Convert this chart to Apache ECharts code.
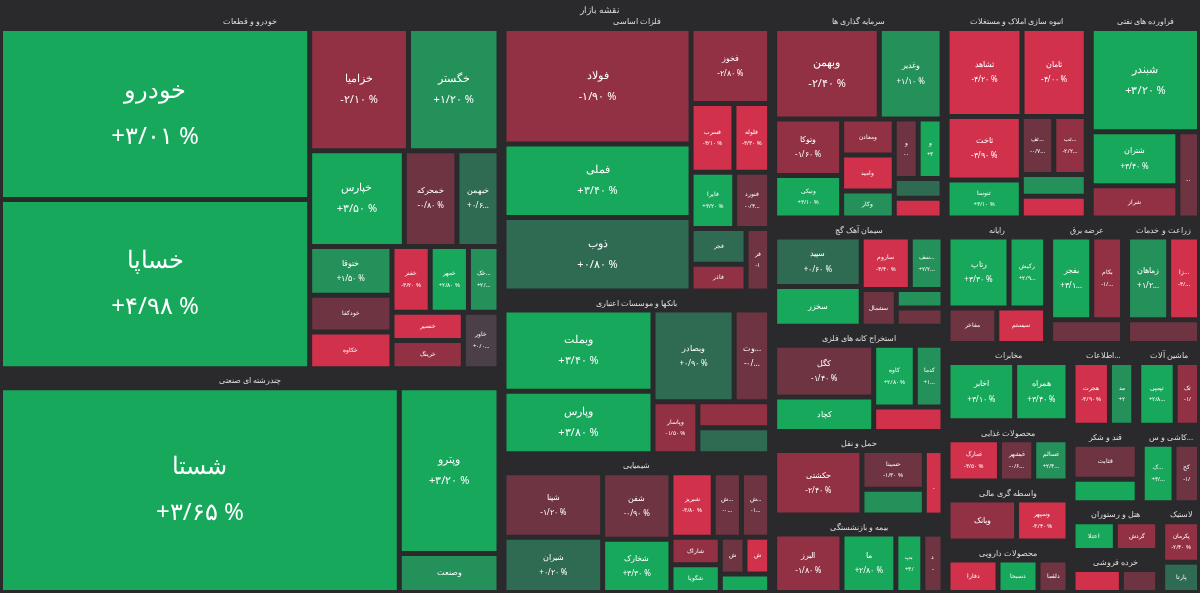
<!DOCTYPE html>
<html><head><meta charset="utf-8">
<script src="https://cdn.jsdelivr.net/npm/echarts@6/dist/echarts.min.js"></script>
<style>html,body{margin:0;padding:0;background:#2a2a2c;}#c{width:1200px;height:593px;}</style>
</head><body><div id="c"></div>
<script>
const title = "نقشه بازار";
const groups = ["خودرو و قطعات","چندرشته ای صنعتی","فلزات اساسی","بانکها و موسسات اعتباری","سرمایه گذاری ها","شیمیایی","انبوه سازی املاک و مستغلات","فراورده های نفتی","سیمان آهک گچ","استخراج کانه های فلزی","رایانه","بیمه و بازنشستگی","حمل و نقل","مخابرات","زراعت و خدمات","واسطه گری مالی","عرضه برق","قند و شکر","محصولات غذایی","ماشین آلات","اطلاعات و ارتباطات","کاشی و سرامیک","محصولات دارویی","هتل و رستوران","لاستیک","خرده فروشی"];
const names = [
 ["خودرو","خساپا","خگستر","خپارس","خزامیا","خمحرکه","ختوقا","خبهمن","خکاوه","خودکفا","خمهر","خفنر","خاور","خرینگ","خنصیر","خکمک"],
 ["شستا","وپترو","وصنعت"],
 ["فولاد","ذوب","فملی","فخوز","فسرب","فایرا","فلوله","فجر","فنورد","فرآور","فاذر"],
 ["وبملت","وپارس","وبصادر","وتجارت","وپاسار","وخاور","وبیمه"],
 ["وبهمن","وغدیر","وتوکا","ونیکی","وامید","ومعادن","وسپه","وصندوق","وکار","وساپا","وسینا"],
 ["شپنا","شیران","شفن","شخارک","شبریز","شکلر","شفارس","شگویا","شاراک","شپدیس","شسپا","شصفها"],
 ["ثشاهد","ثامان","ثاخت","ثنوسا","ثبهساز","ثفارس","ثعمرا","ثمسکن"],
 ["شبندر","شتران","شراز","شاوان"],
 ["سپید","سخزر","ساروم","سفارس","سشمال","سصوفی","سکرما"],
 ["کگل","کچاد","کاوه","کنور","کدما"],
 ["رتاپ","رکیش","سیستم","مفاخر"],
 ["البرز","ما","بپاس","دانا"],
 ["حکشتی","حسینا","حفارس","حتوکا"],
 ["اخابر","همراه"],
 ["زماهان","زاگرس","زکوثر"],
 ["وبانک","وسپهر"],
 ["بفجر","بکام","بموتو"],
 ["قثابت","قهکمت"],
 ["غمارگ","غسالم","غبشهر"],
 ["تپمپی","تکمبا"],
 ["هجرت","مداران"],
 ["کسرام","کحافظ"],
 ["دفارا","دسبحا","دلقما"],
 ["گردش","اعتلا"],
 ["پکرمان","پارتا"],
 ["بهرام","آرمان"]
];
const sizes = [
 [52.5,52,11,9,12,5,4,4,3,3,2.5,2.5,2,2,2,2],
 [84,17,4],
 [22,14,14,6,3,2.5,2.5,2,2,1.5,1.5],
 [13,10,8,3.5,2.5,2,2],
 [10,6,4,3,2,2,1.5,1.5,1.5,1,1],
 [7,6,5,4,3,2,2,1.5,1.5,1,1,1],
 [7,6,5,3,2,2,1.5,1.5],
 [12,5,3,2],
 [5,4,3,2,1.5,1,1],
 [6,4,3,2,2],
 [5,3,2,2],
 [5,4,2,1.5],
 [7,3,2,1.5],
 [5,4],
 [4,3,2],
 [4,3],
 [4,3,2],
 [3,2],
 [3,2,2],
 [3,2],
 [3,2],
 [2.5,2],
 [2.5,2,1.5],
 [2,2],
 [2,1.5],
 [2,1.5]
];
const changes = [
 [3.01,4.98,1.2,3.5,-2.1,-0.8,1.5,0.6,-4.1,-1.3,2.8,-3.2,0,-2.5,-4.4,2.1],
 [3.65,3.2,1.1],
 [-1.9,0.8,3.4,-2.8,-4.1,3.2,-3.3,0.5,-0.4,-1.2,-2.2],
 [3.4,3.8,0.9,-0.2,-1.5,0.3,-2.1],
 [-2.4,1.1,-1.6,3.1,-4.4,-1.8,3.0,-0.6,2.2,-3.1,0.4],
 [-1.2,0.2,-0.9,3.3,-3.8,-1.3,-0.5,2.6,-2.1,3.5,-3.6,-1.1],
 [-4.2,-4.0,-3.9,3.1,-2.2,-0.7,-4.3,1.8],
 [3.2,3.4,-2.1,-0.9],
 [0.6,3.1,-3.4,2.2,-1.0,-0.5,1.7],
 [-1.4,3.3,2.8,-4.0,1.2],
 [3.3,2.9,-4.1,-1.2],
 [-1.8,2.8,3.0,-0.7],
 [-2.4,-1.3,2.1,-3.3],
 [3.1,3.4],
 [1.2,-3.8,-1.0],
 [-2.5,-3.4],
 [3.1,-1.9,-0.8],
 [-1.1,3.0],
 [-3.5,2.4,-0.6],
 [2.8,-1.7],
 [-3.9,2.2],
 [3.0,-1.2],
 [-4.0,2.6,-0.9],
 [-1.6,3.1],
 [-2.4,0.9],
 [-3.1,-1.0]
];
function fa(n){return n.replace(/[0-9]/g,d=>'۰۱۲۳۴۵۶۷۸۹'[d]).replace('.','/');}
function col(c){
 if(c>=2.5) return '#17a85c';
 if(c>=1) return '#24915a';
 if(c>0) return '#2f6a52';
 if(c===0) return '#4b4048';
 if(c>-1.5) return '#6e3442';
 if(c>-3) return '#923044';
 return '#d2314c';
}
const data = groups.map((g,gi)=>({
 name:g,
 children:names[gi].map((n,i)=>{
  const v=sizes[gi][i], c=changes[gi][i];
  const fs = v>40?24:(v>8?11:(v>3?8:6));
  return {name:n,value:v,change:c,
   itemStyle:{color:col(c)},
   label:{fontSize:fs, lineHeight:fs*1.9}};
 })
}));
const chart=echarts.init(document.getElementById('c'));
chart.setOption({
 backgroundColor:'#2a2a2c',
 title:{text:title,left:'center',top:1,textStyle:{color:'#ddd',fontSize:9,fontWeight:'normal',fontFamily:'Noto Sans'}},
 series:[{
  type:'treemap',left:0,right:0,top:14,bottom:0,
  roam:false,nodeClick:false,breadcrumb:{show:false},
  label:{show:true,color:'#fff',fontFamily:'Noto Sans',
   formatter:p=>{const c=p.data.change;return p.name+'\n'+(c>=0?'+':'-')+fa(Math.abs(c).toFixed(2))+' %';}},
  levels:[
   {itemStyle:{borderColor:'#2a2a2c',borderWidth:0,gapWidth:4},upperLabel:{show:false}},
   {itemStyle:{borderColor:'#2a2a2c',borderWidth:2,gapWidth:3},
    upperLabel:{show:true,height:16,color:'#ddd',fontSize:8,position:'inside',align:'center',verticalAlign:'middle',fontFamily:'Noto Sans',formatter:'{b}'}},
   {itemStyle:{borderColor:'#2a2a2c',borderWidth:1}}
  ],
  data:data
 }]
});
</script></body></html>
